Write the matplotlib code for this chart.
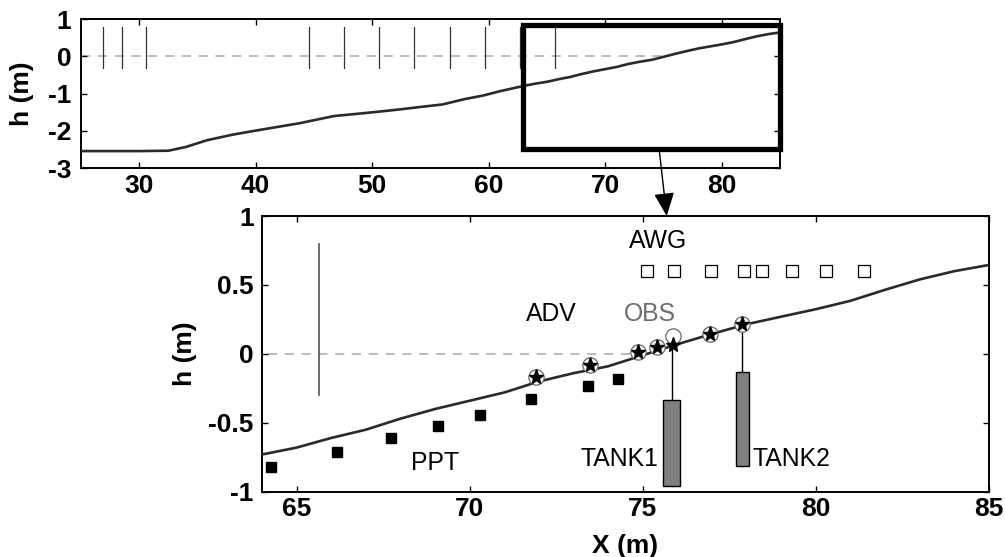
import matplotlib
matplotlib.use('Agg')
import matplotlib.pyplot as plt
from matplotlib.patches import Rectangle, ConnectionPatch

plt.rcParams['font.family'] = ['Liberation Sans', 'DejaVu Sans']
plt.rcParams['axes.unicode_minus'] = False

# ---- data ----
profile_x = [25, 30, 32.5, 34, 35.8, 38, 40, 43.8, 46.7, 50, 52.4, 54, 56, 58, 59.5,
             61, 63, 64, 65, 66, 67, 68, 69, 70, 71, 72, 73, 74, 75, 76, 77, 78,
             79, 80, 81, 82, 83, 84, 85]
profile_h = [-2.54, -2.54, -2.53, -2.43, -2.25, -2.10, -1.99, -1.79, -1.60, -1.50,
             -1.42, -1.36, -1.29, -1.14, -1.05, -0.93, -0.79, -0.73, -0.68, -0.61,
             -0.55, -0.47, -0.40, -0.34, -0.28, -0.20, -0.14, -0.09, -0.01, 0.07,
             0.145, 0.215, 0.27, 0.324, 0.385, 0.465, 0.54, 0.60, 0.645]

gauge_x = [26.9, 28.5, 30.6, 44.6, 47.6, 50.6, 53.6, 56.7, 59.7, 62.7, 65.65]
gauge_bottom = -0.3
gauge_top = 0.8

ppt_x = [64.25, 66.17, 67.74, 69.08, 70.29, 71.78, 73.41, 74.28]
ppt_h = [-0.82, -0.71, -0.61, -0.52, -0.44, -0.33, -0.23, -0.18]

adv_x = [71.9, 73.47, 74.86, 75.4, 75.87, 76.95, 77.87]
adv_h = [-0.17, -0.078, 0.015, 0.053, 0.065, 0.145, 0.215]

obs_x = [71.9, 73.47, 74.86, 75.4, 75.87, 76.95, 77.87]
obs_h = [-0.17, -0.078, 0.015, 0.053, 0.13, 0.145, 0.215]

awg_x = [75.11, 75.9, 76.96, 77.92, 78.44, 79.31, 80.29, 81.39]
awg_h = [0.6, 0.6, 0.6, 0.6, 0.6, 0.6, 0.6, 0.6]

tank_x = [75.83, 77.875]
tank_width = [0.5, 0.39]
tank_top = [-0.334, -0.128]
tank_bottom = [-0.958, -0.813]
tank_mount = [0.065, 0.215]
tank_labels = ['TANK1', 'TANK2']

zoom_box_x = [62.9, 85.0]
zoom_box_h = [-2.48, 0.84]

top_xticks = [30, 40, 50, 60, 70, 80]
top_yticks = [-3, -2, -1, 0, 1]
low_xticks = [65, 70, 75, 80, 85]
low_yticks = [-1, -0.5, 0, 0.5, 1]
low_yticklabels = ['-1', '-0.5', '0', '0.5', '1']

shore_x = 75.0

FS = 17.8    # annotation text
TFS = 19     # tick labels / axis labels

# ---- figure ----
fig = plt.figure(figsize=(10.05, 5.57), dpi=100)
ax1 = fig.add_axes([0.0806, 0.698, 0.6955, 0.2675])
ax2 = fig.add_axes([0.2607, 0.1172, 0.7234, 0.495])

line_col = '#2a2a2a'
for ax in (ax1, ax2):
    for s in ax.spines.values():
        s.set_linewidth(1.4)
    ax.tick_params(direction='in', length=4, width=1, top=True, right=True,
                   labelsize=TFS)

# top panel
ax1.plot(profile_x, profile_h, color=line_col, lw=1.9, zorder=3)
ax1.plot([25, shore_x], [0, 0], color='#aaaaaa', lw=1.1, dashes=(6, 5), zorder=1)
for gx in gauge_x:
    ax1.plot([gx, gx], [gauge_bottom, gauge_top], color='#333333', lw=0.9, zorder=2)
ax1.add_patch(Rectangle((zoom_box_x[0], zoom_box_h[0]),
                        zoom_box_x[1] - zoom_box_x[0], zoom_box_h[1] - zoom_box_h[0],
                        fill=False, lw=3.8, edgecolor='k', clip_on=False, zorder=4))
ax1.set_xlim(25, 85)
ax1.set_ylim(-3, 1)
ax1.set_xticks(top_xticks)
ax1.set_yticks(top_yticks)
ax1.set_xticklabels([str(v) for v in top_xticks], fontweight='bold', fontsize=TFS)
ax1.set_yticklabels([str(v) for v in top_yticks], fontweight='bold', fontsize=TFS)
ax1.tick_params(axis='x', pad=4)
ax1.tick_params(axis='y', pad=7)
ax1.set_ylabel('h (m)', fontsize=TFS, fontweight='bold')
ax1.yaxis.set_label_coords(-0.067, 0.5)

# bottom panel
ax2.plot(profile_x, profile_h, color=line_col, lw=1.9, zorder=3)
ax2.plot([25, shore_x], [0, 0], color='#aaaaaa', lw=1.1, dashes=(6, 5), zorder=1)
ax2.plot([gauge_x[-1], gauge_x[-1]], [gauge_bottom, gauge_top], color='#555555',
         lw=1.2, zorder=2)
ax2.plot(ppt_x, ppt_h, 's', color='k', ms=6.5, zorder=5)
ax2.plot(awg_x, awg_h, 's', mfc='white', mec='k', mew=0.9, ms=8.5, zorder=5)
for tx, tw, tt, tb, tm in zip(tank_x, tank_width, tank_top, tank_bottom, tank_mount):
    ax2.plot([tx, tx], [tb, tm], color='k', lw=1.0, zorder=4)
    ax2.add_patch(Rectangle((tx - tw / 2, tb), tw, tt - tb, facecolor='#808080',
                            edgecolor='k', lw=1.0, zorder=5))
ax2.plot(obs_x, obs_h, 'o', mfc='white', mec='#666666', mew=0.9, ms=11, zorder=6)
ax2.plot(adv_x, adv_h, '*', color='k', ms=11, zorder=7)

ax2.text(75.45, 0.82, 'AWG', fontsize=FS, ha='center', va='center')
ax2.text(72.36, 0.29, 'ADV', fontsize=FS, ha='center', va='center')
ax2.text(75.2, 0.29, 'OBS', fontsize=FS, ha='center', va='center', color='#6e6e6e')
ax2.text(69.0, -0.79, 'PPT', fontsize=FS, ha='center', va='center')
ax2.text(74.33, -0.765, tank_labels[0], fontsize=FS, ha='center', va='center')
ax2.text(79.3, -0.765, tank_labels[1], fontsize=FS, ha='center', va='center')

ax2.set_xlim(64, 85)
ax2.set_ylim(-1, 1)
ax2.set_xticks(low_xticks)
ax2.set_yticks(low_yticks)
ax2.set_xticklabels([str(v) for v in low_xticks], fontweight='bold', fontsize=TFS)
ax2.set_yticklabels(low_yticklabels, fontweight='bold', fontsize=TFS)
ax2.tick_params(axis='x', pad=4)
ax2.tick_params(axis='y', pad=6)
ax2.set_ylabel('h (m)', fontsize=TFS, fontweight='bold')
ax2.yaxis.set_label_coords(-0.09, 0.5)
ax2.set_xlabel('X (m)', fontsize=TFS, fontweight='bold')
ax2.xaxis.set_label_coords(0.499, -0.152)

con = ConnectionPatch(xyA=(74.65, -2.55), coordsA=ax1.transData,
                      xyB=(75.69, 1.0), coordsB=ax2.transData,
                      arrowstyle='-|>,head_length=0.8,head_width=0.35',
                      mutation_scale=18, lw=1.0, color='k', zorder=10)
fig.add_artist(con)

fig.savefig('out.png', dpi=100)
